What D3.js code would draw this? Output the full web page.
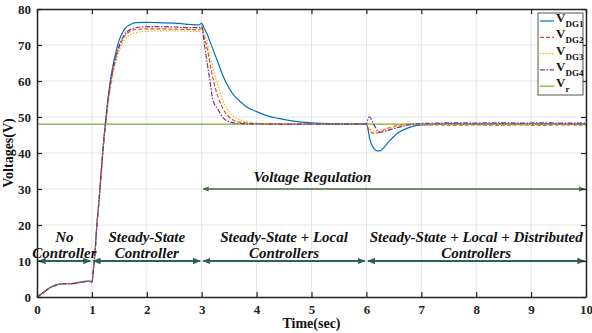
<!DOCTYPE html>
<html>
<head>
<meta charset="utf-8">
<script src="https://cdn.jsdelivr.net/npm/d3@7"></script>
<style>
  body { margin: 0; background: #fff; }
  .grid line { stroke: #e3e3e3; stroke-width: 1; }
</style>
</head>
<body>
<div id="chart"></div>
<script>
// time samples (sec)
var time = [0,0.1,0.2,0.3,0.4,0.5,0.6,0.7,0.8,0.9,0.97,1.0,1.03,1.06,1.09,1.12,1.15,1.2,1.25,1.3,1.35,1.4,1.5,1.6,1.7,1.8,
  2.0,2.2,2.5,2.8,2.95,3.0,3.05,3.1,3.15,3.2,3.3,3.4,3.5,3.6,3.7,3.8,4.0,4.2,4.4,4.7,5.0,5.5,
  6.0,6.03,6.06,6.1,6.15,6.2,6.25,6.3,6.4,6.5,6.6,6.8,7.0,7.3,7.6,8.0,8.4,8.8,9.2,9.6,10];

var vDG1 = [0,1.1,2.3,3.1,3.6,3.7,3.7,3.9,4.2,4.4,4.4,4.1,8,13,20,25,31,41,49,56,61.5,65.5,71.5,74.5,75.7,76.2,
  76.3,76.2,76.1,75.7,75.6,76,74.5,73,71,69,65,61,58,55.8,54.3,53,51.5,50.3,49.6,48.8,48.4,48.1,
  48,46.5,44,42.2,41,40.6,40.6,41.2,43,44.6,45.8,47.2,47.8,48,48.1,48,48.1,48,48.1,48,48];
var vDG2 = [0,1,2.2,3,3.5,3.7,3.7,3.8,4.1,4.3,4.3,4.1,8,13,20,25,30.5,40.5,48,55,60,64,69.5,72.5,73.8,74.3,
  74.5,74.5,74.4,74.3,74.2,74.8,72,69,65,61,55.5,52,50,49,48.6,48.4,48.2,48.1,48,48,48,48,
  48,47,46.2,45.6,45.5,45.6,45.8,46.3,46.9,47.4,47.7,48,47.9,47.8,47.7,47.8,47.7,47.8,47.7,47.8,47.7];
var vDG3 = [0,1,2.2,3,3.5,3.7,3.7,3.8,4.1,4.3,4.3,4.1,8,13,20,25,30,40,47.5,54,59,63,68.5,71.5,72.8,73.4,
  73.8,73.9,73.9,73.8,73.7,74.2,73,71,67,64,58.5,54,51.5,50,49.2,48.7,48.3,48.1,48,48,48,48,
  48,47.4,46.8,46.3,46.1,46,46.1,46.4,46.9,47.3,47.6,47.9,48,48,47.9,48,48,47.9,48,48,48];
var vDG4 = [0,1,2.2,3,3.5,3.7,3.7,3.8,4.1,4.3,4.3,4.1,8,13,20,25,30.5,40.5,48.3,55.5,60.5,64.5,70,73,74.3,74.8,
  75.1,75.1,75,74.8,74.8,75.3,70,65,60,55,52,49.6,48.7,48.3,48.2,48.1,48.1,48,48,48,48,48,
  48,49.5,50,49,47.5,46.3,45.8,45.9,46.3,46.8,47.2,47.9,48.2,48.3,48.4,48.3,48.4,48.3,48.4,48.3,48.3];
var vRef = 48;

var xTicks = [0,1,2,3,4,5,6,7,8,9,10];
var yTicks = [0,10,20,30,40,50,60,70,80];

// controller stages: [start, end, line1, line2]
var stages = [
  [0, 1, "No", "Controller"],
  [1, 3, "Steady-State", "Controller"],
  [3, 6, "Steady-State + Local", "Controllers"],
  [6, 10, "Steady-State + Local + Distributed", "Controllers"]
];

var series = [
  {name: "DG1", values: vDG1, color: "#0072BD", dash: null},
  {name: "DG2", values: vDG2, color: "#D95319", dash: "4,2"},
  {name: "DG3", values: vDG3, color: "#EDB120", dash: "1.5,1.5"},
  {name: "DG4", values: vDG4, color: "#7E2F8E", dash: "5,1.5,1.5,1.5"}
];

var FONT = "Liberation Serif";
var width = 592, height = 333;
var margin = {left: 37, right: 6, top: 9, bottom: 36};

var svg = d3.select("#chart").append("svg")
    .attr("width", width)
    .attr("height", height);

var x = d3.scaleLinear().domain([0, 10]).range([margin.left, width - margin.right]);
var y = d3.scaleLinear().domain([0, 80]).range([height - margin.bottom, margin.top]);

// grid
svg.append("g").attr("class", "grid")
  .selectAll("line").data(xTicks.slice(1, -1)).enter().append("line")
  .attr("x1", d => x(d)).attr("x2", d => x(d))
  .attr("y1", y(0)).attr("y2", y(80));
svg.append("g").attr("class", "grid")
  .selectAll("line").data(yTicks.slice(1, -1)).enter().append("line")
  .attr("x1", x(0)).attr("x2", x(10))
  .attr("y1", d => y(d)).attr("y2", d => y(d));

// arrow markers
var defs = svg.append("defs");
function marker(id, color) {
  defs.append("marker").attr("id", id)
    .attr("viewBox", "0 0 10 10").attr("refX", 9).attr("refY", 5)
    .attr("markerWidth", 4).attr("markerHeight", 4)
    .attr("orient", "auto-start-reverse")
    .append("path").attr("d", "M0,1L10,5L0,9z").attr("fill", color);
}
marker("arrT", "#2f5e5e");
marker("arrG", "#3f6e3a");

// curves
var line = d3.line()
  .x((d, i) => x(time[i]))
  .y(d => y(d))
  .curve(d3.curveMonotoneX);

svg.append("line")
  .attr("x1", x(0)).attr("x2", x(10))
  .attr("y1", y(vRef)).attr("y2", y(vRef))
  .attr("stroke", "#77AC30").attr("stroke-width", 1.3);

series.forEach(function(s) {
  svg.append("path")
    .attr("d", line(s.values))
    .attr("fill", "none")
    .attr("stroke", s.color)
    .attr("stroke-width", 1.2)
    .attr("stroke-dasharray", s.dash);
});

function label(sel) {
  return sel.attr("font-family", FONT).attr("font-weight", "bold").attr("fill", "#111");
}

// stage arrows + labels
stages.forEach(function(s) {
  svg.append("line")
    .attr("x1", x(s[0]) + 1.5).attr("x2", x(s[1]) - 1.5)
    .attr("y1", y(10)).attr("y2", y(10))
    .attr("stroke", "#2f5e5e").attr("stroke-width", 2)
    .attr("marker-start", "url(#arrT)")
    .attr("marker-end", "url(#arrT)");
  var cx = (x(s[0]) + x(s[1])) / 2;
  label(svg.append("text")).attr("x", cx).attr("y", y(10) - 19)
    .attr("text-anchor", "middle").attr("font-size", 15).attr("font-style", "italic")
    .text(s[2]);
  label(svg.append("text")).attr("x", cx).attr("y", y(10) - 3)
    .attr("text-anchor", "middle").attr("font-size", 15).attr("font-style", "italic")
    .text(s[3]);
});

svg.append("line")
  .attr("x1", x(3) + 1.5).attr("x2", x(10) - 1.5)
  .attr("y1", y(30)).attr("y2", y(30))
  .attr("stroke", "#3f6e3a").attr("stroke-width", 1.5)
  .attr("marker-start", "url(#arrG)")
  .attr("marker-end", "url(#arrG)");
label(svg.append("text")).attr("x", x(5) + 1).attr("y", y(30) - 7)
  .attr("text-anchor", "middle").attr("font-size", 15).attr("font-style", "italic")
  .text("Voltage Regulation");

// axes (box style, ticks inward)
svg.append("g")
  .attr("transform", "translate(0," + y(0) + ")")
  .call(d3.axisBottom(x).tickValues(xTicks).tickSizeInner(-5).tickSizeOuter(0).tickPadding(8));
svg.append("g")
  .attr("transform", "translate(" + x(0) + ",0)")
  .call(d3.axisLeft(y).tickValues(yTicks).tickSizeInner(-5).tickSizeOuter(0).tickPadding(6));
svg.append("g")
  .attr("transform", "translate(0," + y(80) + ")")
  .call(d3.axisTop(x).tickValues(xTicks).tickSizeInner(-5).tickSizeOuter(0).tickFormat(""));
svg.append("g")
  .attr("transform", "translate(" + x(10) + ",0)")
  .call(d3.axisRight(y).tickValues(yTicks).tickSizeInner(-5).tickSizeOuter(0).tickFormat(""));
svg.selectAll(".domain").attr("stroke", "#222").attr("stroke-width", 1.5);
svg.selectAll(".tick line").attr("stroke", "#222").attr("stroke-width", 1.2);
label(svg.selectAll(".tick text")).attr("font-size", 13).attr("fill", "#222");

// axis titles
label(svg.append("text"))
  .attr("x", (x(0) + x(10)) / 2).attr("y", height - 5)
  .attr("text-anchor", "middle").attr("font-size", 14)
  .text("Time(sec)");
label(svg.append("text"))
  .attr("transform", "translate(13," + y(40) + ") rotate(-90)")
  .attr("text-anchor", "middle").attr("font-size", 14)
  .text("Voltages(V)");

// legend
var lg = svg.append("g").attr("transform", "translate(538,13)");
lg.append("rect").attr("width", 45).attr("height", 82)
  .attr("fill", "#fff").attr("stroke", "#555").attr("stroke-width", 1);
var legendItems = series.map(s => ({sub: s.name, color: s.color, dash: s.dash}))
  .concat([{sub: "r", color: "#77AC30", dash: null}]);
legendItems.forEach(function(d, i) {
  var yy = 8 + i * 16.3;
  lg.append("line").attr("x1", 2).attr("x2", 16).attr("y1", yy).attr("y2", yy)
    .attr("stroke", d.color).attr("stroke-width", 1.2).attr("stroke-dasharray", d.dash);
  var t = label(lg.append("text")).attr("x", 18).attr("y", yy + 1).attr("font-size", 13);
  t.append("tspan").text("V");
  t.append("tspan").attr("dy", 5).attr("font-size", 9).text(d.sub);
});
</script>
</body>
</html>
